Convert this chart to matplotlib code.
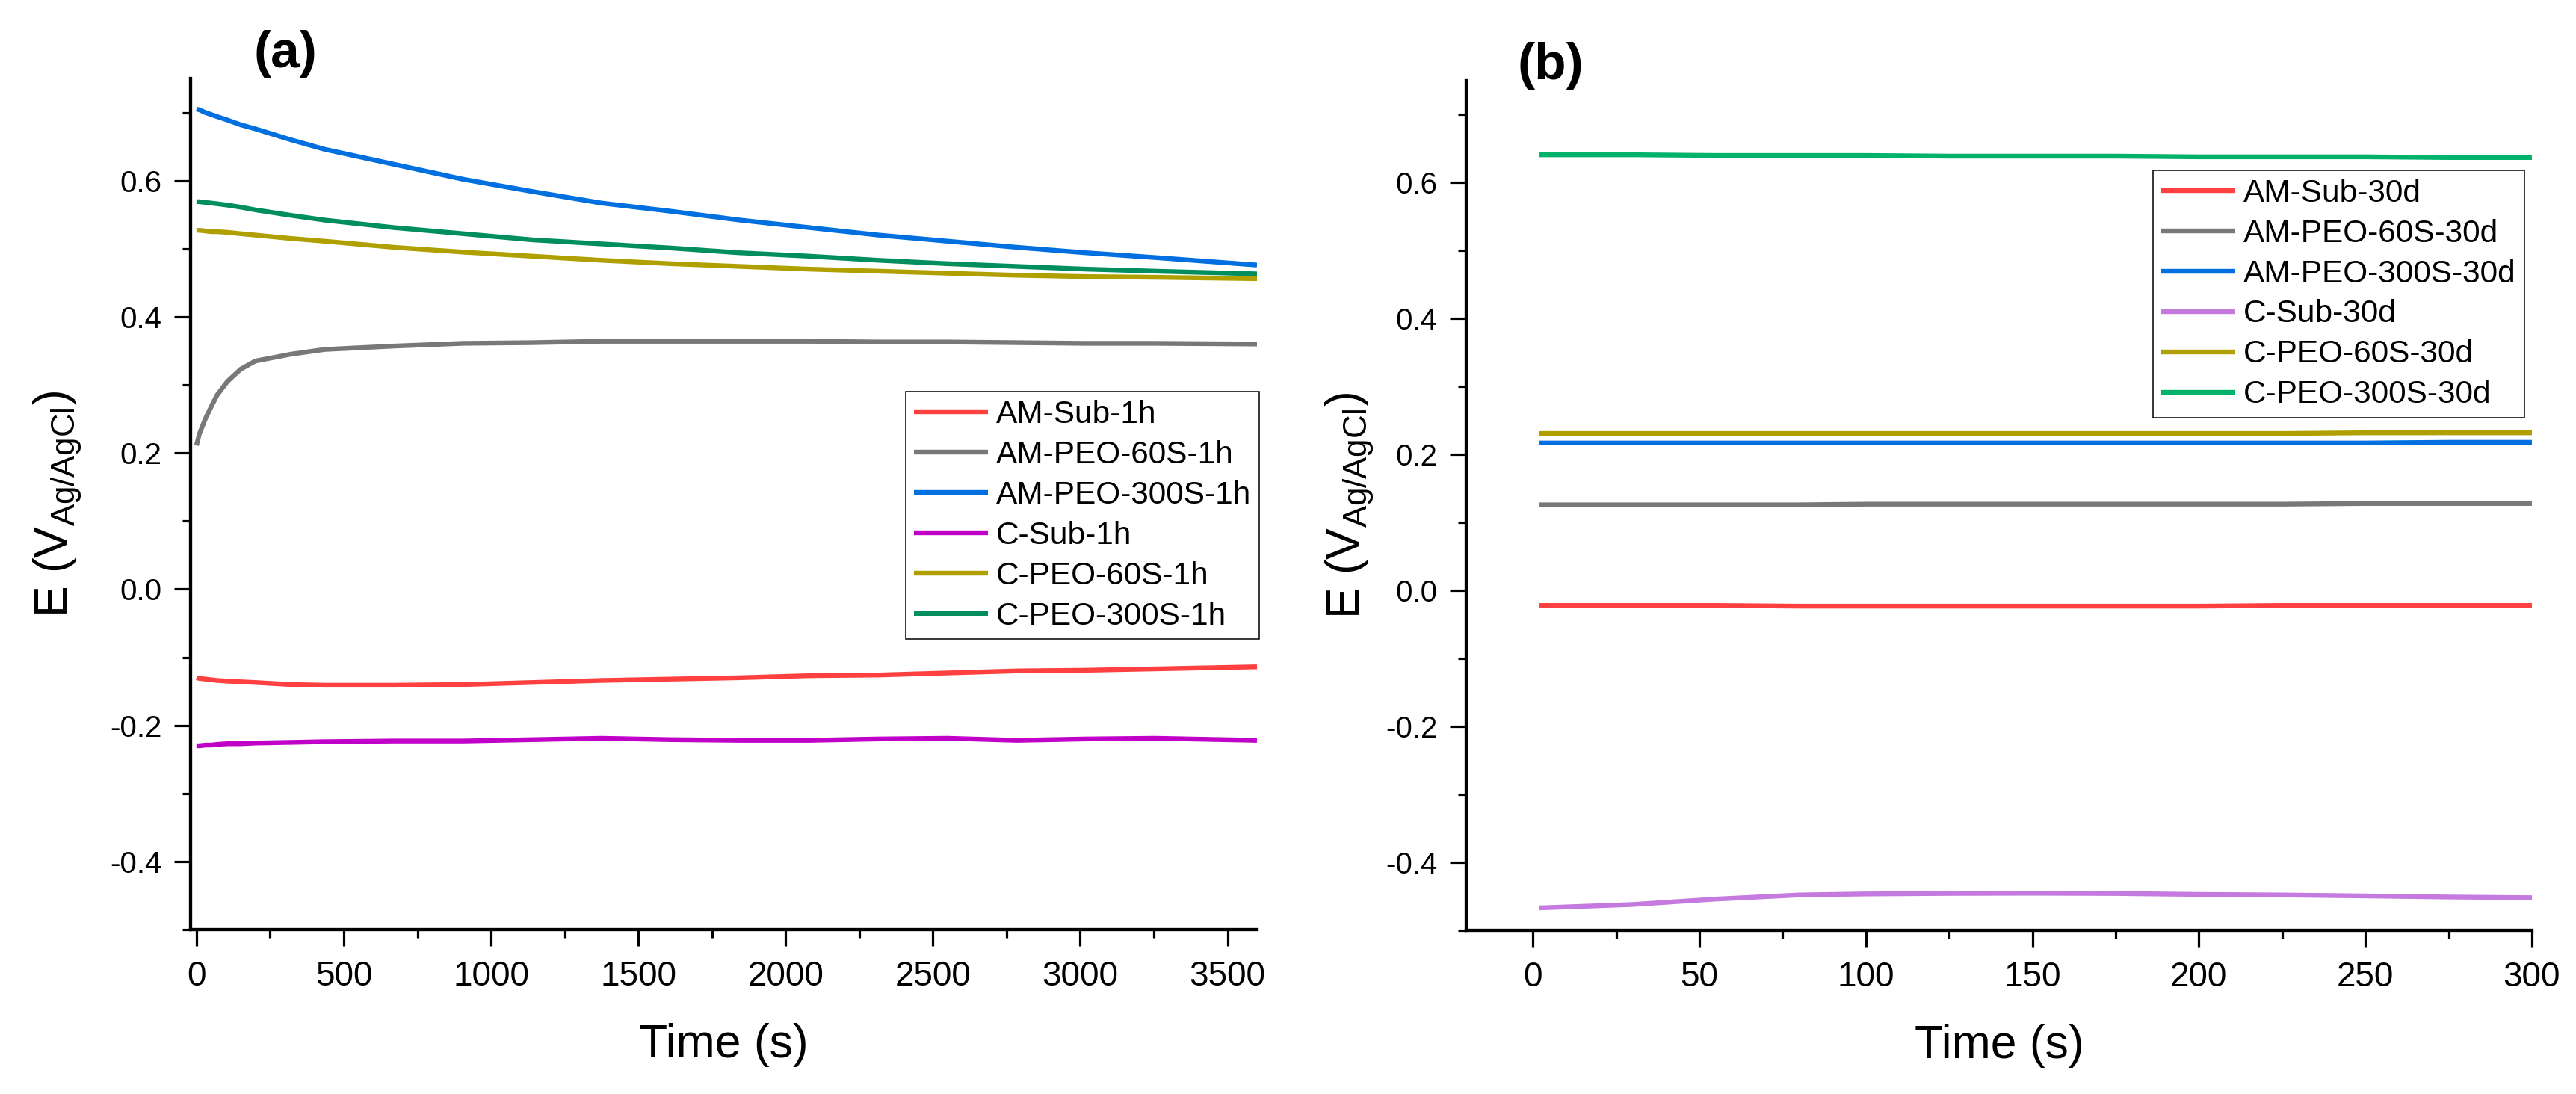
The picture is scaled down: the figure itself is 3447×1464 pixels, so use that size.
import matplotlib
matplotlib.use('Agg')
import matplotlib.pyplot as plt
from matplotlib.ticker import MultipleLocator

plt.rcParams['font.family'] = ['Liberation Sans', 'DejaVu Sans']
plt.rcParams['mathtext.fontset'] = 'custom'
plt.rcParams['mathtext.rm'] = 'Liberation Sans'
plt.rcParams['axes.unicode_minus'] = False

# ---- panel (a): 1 h OCP ----
t_a = [0, 10, 30, 50, 70, 105, 150, 200, 320, 435, 670, 905, 1140, 1375,
       1610, 1845, 2080, 2315, 2550, 2785, 3020, 3255, 3600]
am_sub_1h = [-0.130, -0.131, -0.132, -0.133, -0.134, -0.135, -0.136, -0.137, -0.140, -0.141,
             -0.141, -0.140, -0.137, -0.134, -0.132, -0.130, -0.127, -0.126, -0.123, -0.120,
             -0.119, -0.117, -0.114]
am_60s_1h = [0.211, 0.228, 0.250, 0.268, 0.285, 0.305, 0.323, 0.335, 0.345, 0.352, 0.357,
             0.361, 0.362, 0.364, 0.364, 0.364, 0.364, 0.363, 0.363, 0.362, 0.361, 0.361, 0.360]
am_300s_1h = [0.705, 0.704, 0.700, 0.697, 0.694, 0.689, 0.682, 0.676, 0.660, 0.646, 0.624,
              0.602, 0.584, 0.567, 0.555, 0.542, 0.531, 0.520, 0.511, 0.502, 0.494, 0.487, 0.476]
c_sub_1h = [-0.230, -0.230, -0.229, -0.229, -0.228, -0.227, -0.227, -0.226, -0.225, -0.224,
            -0.223, -0.223, -0.221, -0.219, -0.221, -0.222, -0.222, -0.220, -0.219, -0.222,
            -0.220, -0.219, -0.222]
c_60s_1h = [0.527, 0.527, 0.526, 0.525, 0.525, 0.524, 0.522, 0.520, 0.515, 0.511, 0.502,
            0.495, 0.489, 0.483, 0.478, 0.474, 0.470, 0.467, 0.464, 0.461, 0.459, 0.458, 0.456]
c_300s_1h = [0.569, 0.569, 0.568, 0.567, 0.566, 0.564, 0.561, 0.557, 0.549, 0.542, 0.531,
             0.522, 0.513, 0.507, 0.501, 0.494, 0.489, 0.483, 0.478, 0.474, 0.470, 0.467, 0.463]

# ---- panel (b): 30 d OCP ----
t_b = [2, 30, 55, 80, 100, 125, 150, 175, 200, 225, 250, 275, 300]
am_sub_30d = [-0.022, -0.022, -0.022, -0.023, -0.023, -0.023, -0.023, -0.023, -0.023,
              -0.022, -0.022, -0.022, -0.022]
am_60s_30d = [0.126, 0.126, 0.126, 0.126, 0.127, 0.127, 0.127, 0.127, 0.127, 0.127,
              0.128, 0.128, 0.128]
am_300s_30d = [0.217, 0.217, 0.217, 0.217, 0.217, 0.217, 0.217, 0.217, 0.217, 0.217,
               0.217, 0.218, 0.218]
c_sub_30d = [-0.467, -0.462, -0.454, -0.448, -0.4465, -0.4457, -0.4454, -0.4458, -0.4472,
             -0.448, -0.4494, -0.451, -0.452]
c_60s_30d = [0.231, 0.231, 0.231, 0.231, 0.231, 0.231, 0.231, 0.231, 0.231, 0.231,
             0.232, 0.232, 0.232]
c_300s_30d = [0.641, 0.641, 0.640, 0.640, 0.640, 0.639, 0.639, 0.639, 0.638, 0.638,
              0.638, 0.637, 0.637]

labels_a = ['AM-Sub-1h', 'AM-PEO-60S-1h', 'AM-PEO-300S-1h', 'C-Sub-1h', 'C-PEO-60S-1h', 'C-PEO-300S-1h']
labels_b = ['AM-Sub-30d', 'AM-PEO-60S-30d', 'AM-PEO-300S-30d', 'C-Sub-30d', 'C-PEO-60S-30d', 'C-PEO-300S-30d']
colors_a = ['#FF4040', '#787878', '#0070E0', '#C000C8', '#AFA000', '#008F5C']
colors_b = ['#FF4040', '#787878', '#0070E0', '#C47ADF', '#AFA000', '#00B26A']

series_a = [am_sub_1h, am_60s_1h, am_300s_1h, c_sub_1h, c_60s_1h, c_300s_1h]
series_b = [am_sub_30d, am_60s_30d, am_300s_30d, c_sub_30d, c_60s_30d, c_300s_30d]

W, H = 3448, 1464
fig = plt.figure(figsize=(W / 100, H / 100), dpi=100)
ax_a = fig.add_axes([255 / W, 1 - 1244 / H, 1427 / W, 1139 / H])
ax_b = fig.add_axes([1962 / W, 1 - 1245 / H, 1426 / W, 1137 / H])

LW = 4.6


def style(ax, xmaj, xmin):
    for s in ['top', 'right']:
        ax.spines[s].set_visible(False)
    for s in ['left', 'bottom']:
        ax.spines[s].set_linewidth(3.1)
    ax.set_ylim(-0.5, 0.75)
    ax.yaxis.set_major_locator(MultipleLocator(0.2))
    ax.yaxis.set_minor_locator(MultipleLocator(0.1))
    ax.xaxis.set_major_locator(MultipleLocator(xmaj))
    ax.xaxis.set_minor_locator(MultipleLocator(xmin))
    ax.yaxis.set_major_formatter(plt.FormatStrFormatter('%.1f'))
    ax.tick_params(which='major', direction='out', length=15.8, width=2.3)
    ax.tick_params(which='minor', direction='out', length=8, width=2.3)
    ax.tick_params(axis='x', which='major', labelsize=33, pad=14)
    ax.tick_params(axis='y', which='major', labelsize=29, pad=12)
    ax.set_xlabel('Time (s)', fontsize=45)
    ax.set_ylabel(r'E (V$_{\mathregular{Ag/AgCl}}$)', fontsize=45)
    ax.xaxis.set_label_coords(0.5, -0.11)


def add_legend(ax, anchor):
    leg = ax.legend(loc='upper left', bbox_to_anchor=anchor, borderaxespad=0,
                    fontsize=30.5, handlelength=2.35, handletextpad=0.26, borderpad=0.25,
                    labelspacing=0.33, fancybox=False, framealpha=1, edgecolor='black')
    leg.get_frame().set_linewidth(1.1)
    return leg


for vals, lab, col in zip(series_a, labels_a, colors_a):
    ax_a.plot(t_a, vals, color=col, lw=LW, label=lab, solid_capstyle='butt')
style(ax_a, 500, 250)
ax_a.set_xlim(-20, 3600)
ax_a.yaxis.set_label_coords(-0.10, 0.5)
add_legend(ax_a, (0.6706, 0.632))

for vals, lab, col in zip(series_b, labels_b, colors_b):
    ax_b.plot(t_b, vals, color=col, lw=LW, label=lab, solid_capstyle='butt')
style(ax_b, 50, 25)
ax_b.set_xlim(-20, 300)
ax_b.yaxis.set_label_coords(-0.085, 0.5)
add_legend(ax_b, (0.6445, 0.8945))

fig.text(382 / W, 1 - 72 / H, '(a)', fontsize=50, fontweight='bold', ha='center', va='center')
fig.text(2075 / W, 1 - 88 / H, '(b)', fontsize=50, fontweight='bold', ha='center', va='center')

fig.savefig('out.png', dpi=100)
